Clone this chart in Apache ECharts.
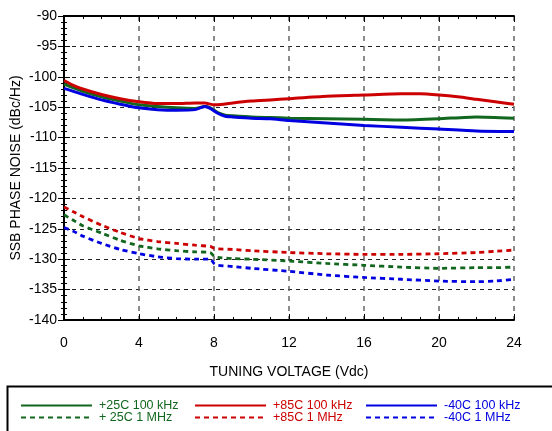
<!DOCTYPE html>
<html><head><meta charset="utf-8">
<script src="https://cdn.jsdelivr.net/npm/echarts@6/dist/echarts.min.js"></script>
<style>html,body{margin:0;padding:0;background:#fff}#c{width:552px;height:431px}</style>
</head><body><div id="c"></div>
<script>
// Data
var xTicks = [0, 4, 8, 12, 16, 20, 24];
var yTicks = [-140, -135, -130, -125, -120, -115, -110, -105, -100, -95, -90];

var xSolidRed = [0, 0.5, 1, 2, 3, 4, 5, 6, 7, 7.5, 8, 8.5, 9, 10, 11, 12, 14, 16, 18, 19, 20, 21, 22, 23, 24];
var red100k = [-100.6, -101.4, -102.0, -102.9, -103.6, -104.1, -104.4, -104.4, -104.3, -104.3, -104.6, -104.5, -104.3, -104.0, -103.8, -103.6, -103.2, -103.0, -102.8, -102.8, -103.0, -103.3, -103.7, -104.1, -104.5];

var xSolid = [0, 0.5, 1, 2, 3, 4, 5, 6, 7, 7.5, 7.8, 8.2, 8.6, 9, 10, 11, 12, 14, 16, 18, 20, 22, 24];
var green100k = [-101.2, -101.8, -102.4, -103.3, -104.0, -104.6, -104.9, -105.1, -105.2, -104.9, -105.1, -105.9, -106.3, -106.4, -106.6, -106.7, -106.8, -106.9, -107.0, -107.1, -106.9, -106.6, -106.8];
var blue100k = [-101.9, -102.4, -102.9, -103.8, -104.5, -105.1, -105.4, -105.5, -105.4, -104.9, -105.2, -106.0, -106.5, -106.6, -106.8, -106.9, -107.2, -107.6, -108.0, -108.3, -108.6, -108.9, -109.0];

var xDash = [0, 0.5, 1, 2, 3, 4, 5, 6, 7, 7.8, 8.0, 8.2, 9, 10, 12, 14, 16, 18, 20, 22, 23, 24];
var red1M = [-121.4, -122.2, -123.0, -124.4, -125.6, -126.6, -127.1, -127.4, -127.7, -127.9, -128.2, -128.3, -128.4, -128.6, -128.9, -129.1, -129.2, -129.2, -129.1, -128.9, -128.7, -128.5];
var green1M = [-122.7, -123.6, -124.5, -125.7, -126.9, -127.8, -128.3, -128.6, -128.8, -128.9, -129.5, -129.7, -129.9, -130.0, -130.3, -130.7, -131.0, -131.3, -131.5, -131.4, -131.4, -131.3];
var blue1M = [-124.8, -125.4, -126.2, -127.4, -128.4, -129.1, -129.6, -129.9, -130.0, -130.0, -130.7, -131.0, -131.2, -131.5, -132.0, -132.6, -133.0, -133.3, -133.6, -133.7, -133.6, -133.3];

var names = ['+25C 100 kHz', '+85C 100 kHz', '-40C 100 kHz', '+ 25C 1 MHz', '+85C 1 MHz', '-40C 1 MHz'];

var GREEN = '#12671f', RED = '#cc0000', BLUE = '#0000e0';
var FONT = 'Liberation Sans, Arial, sans-serif';

function pairs(xs, ys) { return xs.map(function (x, i) { return [x, ys[i]]; }); }

function mk(name, xs, ys, color, dashed) {
  return {
    name: name, type: 'line', data: pairs(xs, ys), xAxisIndex: 0, yAxisIndex: 0,
    symbol: 'none', smooth: 0.2, silent: true,
    lineStyle: { color: color, width: dashed ? 2.8 : 3, type: dashed ? [5, 4] : 'solid' },
    itemStyle: { color: color }
  };
}

function leg(name, left, top, color) {
  return {
    data: [name], left: left, top: top, padding: 0, itemWidth: 71, itemHeight: 10, itemGap: 0,
    selectedMode: false,
    itemStyle: { opacity: 0 },
    textStyle: { color: color, fontFamily: FONT, fontSize: 12.5, padding: [0, 0, 0, 2] }
  };
}

var chart = echarts.init(document.getElementById('c'), null, { renderer: 'canvas' });
var axisCommon = {
  type: 'value',
  axisLine: { show: true, lineStyle: { color: '#000', width: 2 } },
  axisTick: { show: true, inside: true, length: 6, lineStyle: { color: '#000', width: 1 } },
  minorTick: { show: true, splitNumber: 4, length: 3, lineStyle: { color: '#000', width: 1 } }
};
chart.setOption({
  animation: false,
  backgroundColor: '#fff',
  grid: { left: 64, top: 16, width: 450, height: 304, containLabel: false, outerBoundsMode: 'none' },
  xAxis: [
    Object.assign({}, axisCommon, {
      min: xTicks[0], max: xTicks[xTicks.length - 1], interval: 4, position: 'bottom',
      name: 'TUNING VOLTAGE (Vdc)', nameLocation: 'middle', nameGap: 45, nameMoveOverlap: false,
      nameTextStyle: { color: '#000', fontFamily: FONT, fontSize: 14 },
      axisLabel: { color: '#000', fontFamily: FONT, fontSize: 14, margin: 16 },
      splitLine: { show: true, lineStyle: { color: '#666', width: 1.5, type: [5, 5] } }
    }),
    Object.assign({}, axisCommon, {
      min: xTicks[0], max: xTicks[xTicks.length - 1], interval: 4, position: 'top',
      axisLabel: { show: false }, splitLine: { show: false }
    })
  ],
  yAxis: [
    Object.assign({}, axisCommon, {
      min: yTicks[0], max: yTicks[yTicks.length - 1], interval: 5, position: 'left',
      minorTick: { show: true, splitNumber: 5, length: 3, lineStyle: { color: '#000', width: 1 } },
      name: 'SSB PHASE NOISE (dBc/Hz)', nameLocation: 'middle', nameGap: 41, nameRotate: 90,
      nameMoveOverlap: false,
      nameTextStyle: { color: '#000', fontFamily: FONT, fontSize: 14 },
      axisLabel: { color: '#000', fontFamily: FONT, fontSize: 14, margin: 7 },
      splitLine: { show: true, lineStyle: { color: '#222', width: 1, type: [4, 4] } }
    }),
    Object.assign({}, axisCommon, {
      min: yTicks[0], max: yTicks[yTicks.length - 1], interval: 5, position: 'right',
      minorTick: { show: true, splitNumber: 5, length: 3, lineStyle: { color: '#000', width: 1 } },
      axisLabel: { show: false }, splitLine: { show: false }
    })
  ],
  legend: [
    leg(names[0], 20, 399, GREEN),
    leg(names[1], 194, 399, RED),
    leg(names[2], 365, 399, BLUE),
    leg(names[3], 20, 411, GREEN),
    leg(names[4], 194, 411, RED),
    leg(names[5], 365, 411, BLUE)
  ],
  graphic: [{
    type: 'rect', left: 5, top: 384, silent: true,
    shape: { width: 600, height: 100 },
    style: { fill: 'none', stroke: '#000', lineWidth: 2 }
  }],
  series: [
    mk(names[0], xSolid, green100k, GREEN, false),
    mk(names[1], xSolidRed, red100k, RED, false),
    mk(names[2], xSolid, blue100k, BLUE, false),
    mk(names[3], xDash, green1M, GREEN, true),
    mk(names[4], xDash, red1M, RED, true),
    mk(names[5], xDash, blue1M, BLUE, true)
  ]
});
</script>
</body></html>
